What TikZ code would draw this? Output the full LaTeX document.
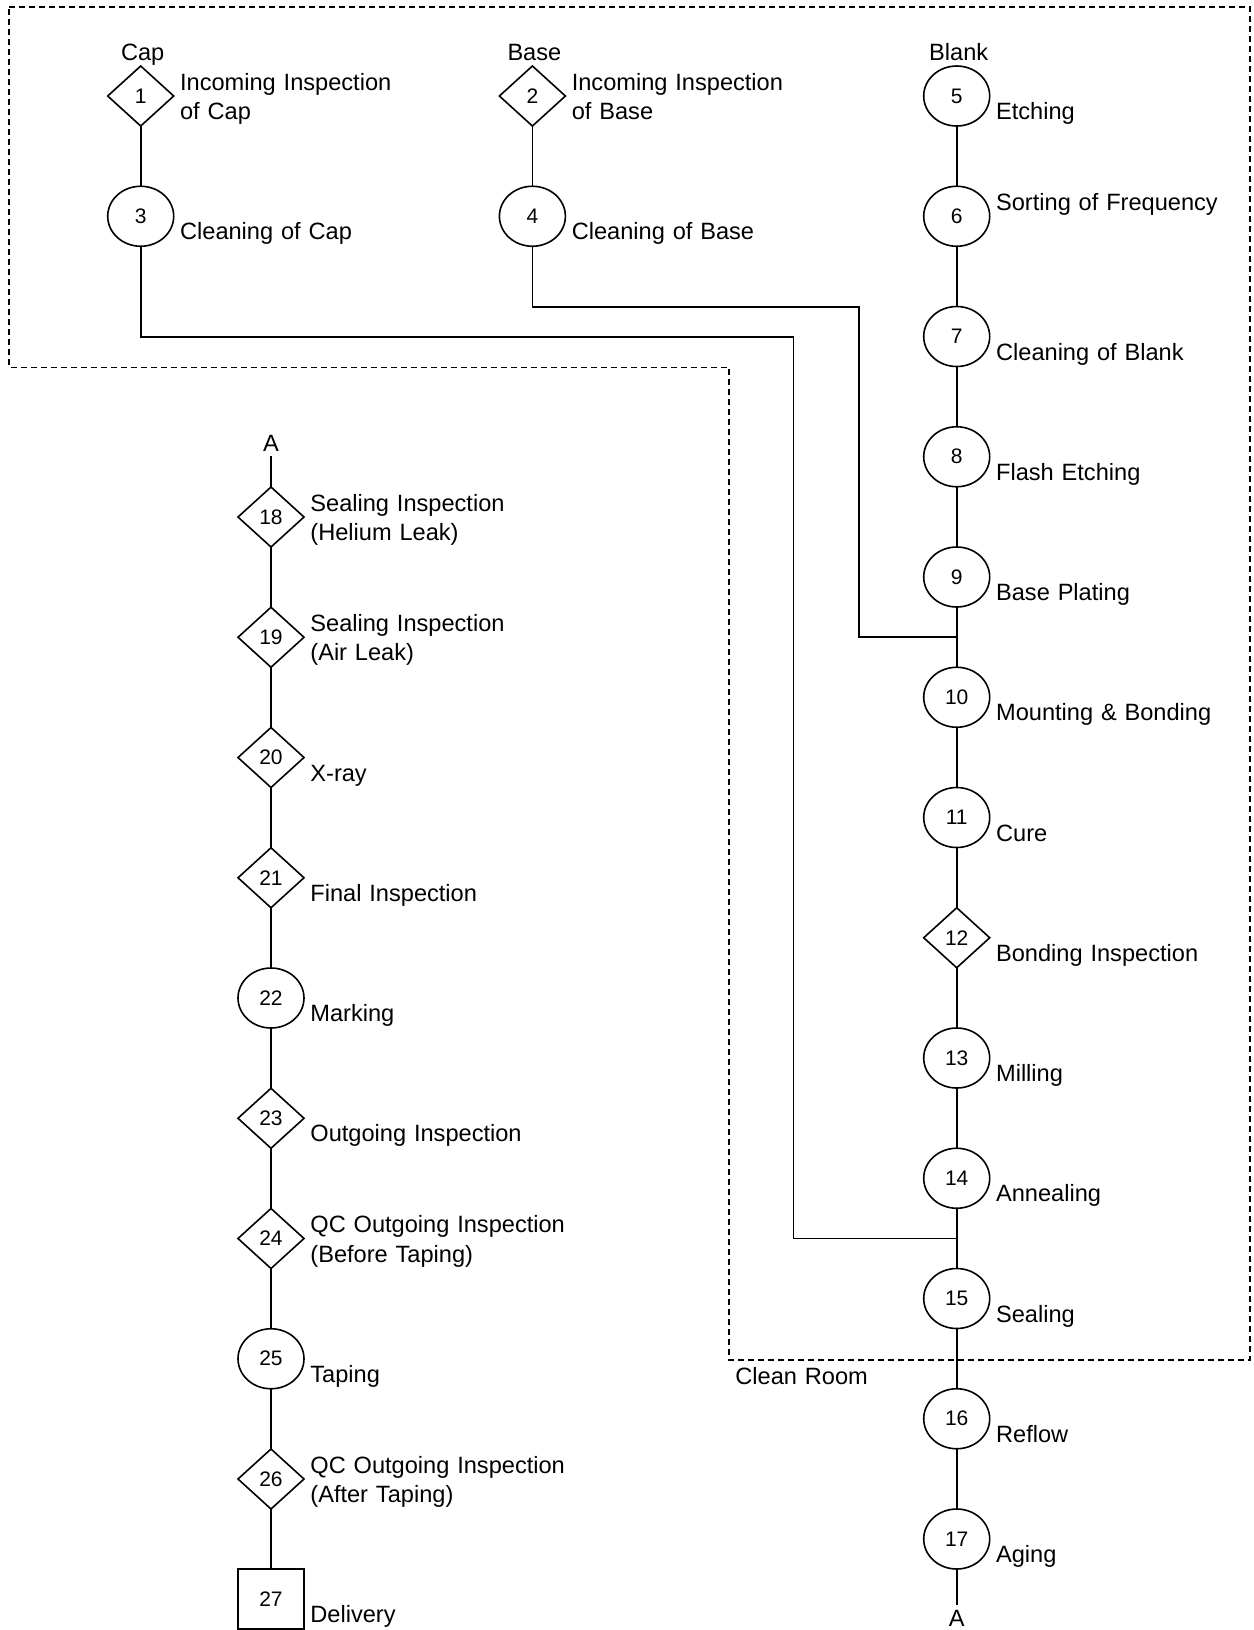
\documentclass[tikz,border=0pt]{standalone}
\usepackage{fontspec}
\setmainfont{Liberation Sans}
\usetikzlibrary{shapes.geometric,positioning,calc}
\tikzset{
  stepnode/.style={draw, line width=0.8pt, inner sep=0pt, outer sep=0pt,
    minimum width=33pt, minimum height=30pt,
    font=\fontsize{10.5pt}{12pt}\selectfont},
  proc/.style ={stepnode, ellipse},
  insp/.style ={stepnode, diamond},
  deliv/.style={stepnode, rectangle},
  desc/.style={anchor=base west, inner sep=0pt, text width=6cm,
    align=left, font=\fontsize{11.8pt}{14.75pt}\selectfont},
  tag/.style={anchor=base, inner sep=2.5pt,
    font=\fontsize{11.8pt}{13pt}\selectfont},
  link/.style={line width=0.8pt},
  room/.style={line width=0.8pt, dash pattern=on 3pt off 2pt}
}
\begin{document}
\begin{tikzpicture}[x=0.5pt, y=0.5pt, node distance=30.125pt]
  \useasboundingbox (0,0) rectangle (1254,-1630);

  % clean room
  \draw[room] (9,-7) -- (1250,-7) -- (1250,-1360) -- (729,-1360)
    -- (729,-367.3) -- (9,-367.3) -- cycle;
  \node[desc] (cr) at (735,-1384) {Clean Room};

  % cap and base
  \node[insp]              (n1)  at (140.7,-96) {1};
  \node[proc, below=of n1] (n3)  {3};
  \node[insp]              (n2)  at (532.4,-96) {2};
  \node[proc, below=of n2] (n4)  {4};

  % blank
  \node[proc]               (n5)  at (956.7,-96) {5};
  \node[proc, below=of n5]  (n6)  {6};
  \node[proc, below=of n6]  (n7)  {7};
  \node[proc, below=of n7]  (n8)  {8};
  \node[proc, below=of n8]  (n9)  {9};
  \node[proc, below=of n9]  (n10) {10};
  \node[proc, below=of n10] (n11) {11};
  \node[insp, below=of n11] (n12) {12};
  \node[proc, below=of n12] (n13) {13};
  \node[proc, below=of n13] (n14) {14};
  \node[proc, below=of n14] (n15) {15};
  \node[proc, below=of n15] (n16) {16};
  \node[proc, below=of n16] (n17) {17};

  % after aging
  \node[insp]                (n18) at (271,-517) {18};
  \node[insp,  below=of n18] (n19) {19};
  \node[insp,  below=of n19] (n20) {20};
  \node[insp,  below=of n20] (n21) {21};
  \node[proc,  below=of n21] (n22) {22};
  \node[insp,  below=of n22] (n23) {23};
  \node[insp,  below=of n23] (n24) {24};
  \node[proc,  below=of n24] (n25) {25};
  \node[insp,  below=of n25] (n26) {26};
  \node[deliv, below=of n26] (n27) {27};

  \node[tag] (tcap)   at ([shift={(1pt,18pt)}]n1.center) {Cap};
  \node[tag] (tbase)  at ([shift={(1pt,18pt)}]n2.center) {Base};
  \node[tag] (tblank) at ([shift={(1pt,18pt)}]n5.center) {Blank};
  \node[tag] (atop)   at ([yshift=33pt]n18.center) {A};
  \node[tag] (abot)   at ([yshift=-43.6pt]n17.center) {A};

  \foreach \n/\t in {3/Cleaning of Cap, 4/Cleaning of Base, 5/Etching,
      7/Cleaning of Blank, 8/Flash Etching, 9/Base Plating,
      10/Mounting \& Bonding, 11/Cure, 12/Bonding Inspection, 13/Milling,
      14/Annealing, 15/Sealing, 16/Reflow, 17/Aging, 20/X-ray,
      21/Final Inspection, 22/Marking, 23/Outgoing Inspection,
      25/Taping, 27/Delivery}
    \node[desc] (l\n) at ([shift={(19.5pt,-11.75pt)}]n\n.center) {\t};
  \foreach \n/\t in {1/{Incoming Inspection\\of Cap},
      2/{Incoming Inspection\\of Base}, 6/Sorting of Frequency,
      18/{Sealing Inspection\\(Helium Leak)},
      19/{Sealing Inspection\\(Air Leak)},
      24/{QC Outgoing Inspection\\(Before Taping)},
      26/{QC Outgoing Inspection\\(After Taping)}}
    \node[desc] (l\n) at ([shift={(19.5pt,3pt)}]n\n.center) {\t};

  \foreach \a/\b in {1/3, 2/4, 5/6, 6/7, 7/8, 8/9, 9/10, 10/11, 11/12,
      12/13, 13/14, 14/15, 15/16, 16/17, 18/19, 19/20, 20/21, 21/22,
      22/23, 23/24, 24/25, 25/26, 26/27}
    \draw[link] (n\a) -- (n\b);
  \draw[link] (atop) -- (n18);
  \draw[link] (n17) -- (abot);

  % cap and base join the blank line
  \coordinate (j1) at ($(n9)!.5!(n10)$);
  \coordinate (j2) at ($(n14)!.5!(n15)$);
  \coordinate (b1) at (859,-306.7);
  \coordinate (c1) at (793.5,-336.7);
  \draw[link] (n4) |- (b1) |- (j1);
  \draw[link] (n3) |- (c1) |- (j2);
\end{tikzpicture}
\end{document}
